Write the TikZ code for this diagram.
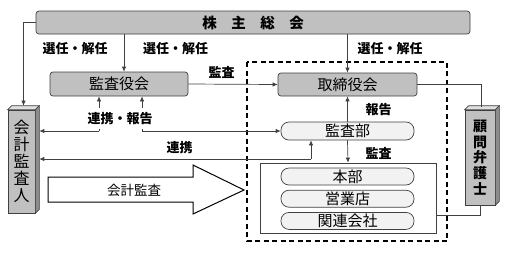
\documentclass[tikz,border=0pt]{standalone}
\usepackage{fontspec}
\setmainfont{Noto Sans CJK JP}
\usetikzlibrary{arrows.meta,positioning,calc}
\definecolor{kgray}{HTML}{C0C0C0}
\definecolor{klight}{HTML}{F2F2F2}
\definecolor{kline}{HTML}{404040}
\tikzset{
  gbox/.style={draw=kline,fill=kgray,rounded corners=3pt,line width=0.7pt,font=\fontsize{15}{15}\selectfont,inner sep=0pt},
  lbox/.style={draw=kline,fill=klight,rounded corners=8pt,line width=0.7pt,font=\fontsize{15}{15}\selectfont,inner sep=0pt,minimum width=133pt,minimum height=17pt},
  face/.style={draw=kline,fill=kgray,line width=0.6pt,align=center,inner sep=0pt},
  arr/.style={-{Latex[length=5pt,width=4.5pt]},line width=0.7pt,draw=kline},
  ln/.style={line width=0.7pt,draw=kline},
  lbl/.style={font=\fontsize{13}{13}\selectfont\bfseries,inner sep=1pt},
}
\newcommand{\cubefaces}[1]{%
  \filldraw[draw=kline,fill=black!12,line width=0.6pt] (#1.north west) -- ++(4,-4) -- ([shift={(4,-4)}]#1.north east) -- (#1.north east) -- cycle;
  \filldraw[draw=kline,fill=black!45,line width=0.6pt] (#1.north east) -- ++(4,-4) -- ([shift={(4,-4)}]#1.south east) -- (#1.south east) -- cycle;}

\begin{document}
\begin{tikzpicture}[x=1pt,y=-1pt]
  \useasboundingbox (0,0) rectangle (508,255);
  \draw[line width=1.1pt,dash pattern=on 5pt off 3.5pt] (247,62) rectangle (447,241);
  \node[gbox,minimum width=434pt,minimum height=23pt,font=\fontsize{14.5}{14.5}\selectfont\bfseries] (kabu) at (253,22.5) {株　主　総　会};
  \node[gbox,minimum width=138pt,minimum height=24pt] (kansayaku) at (119,84) {監査役会};
  \node[gbox,minimum width=139pt,minimum height=23pt] (torishimari) at (347.5,84.5) {取締役会};
  \node[lbox,minimum height=18pt] (kansabu) at (347.5,131) {監査部};
  \node[draw=kline,fill=white,line width=0.7pt,minimum width=176pt,minimum height=70pt] (soshiki) at (348,198) {};
  \node[lbox] (honbu) at (347.5,176.5) {本部};
  \node[lbox,below=4.5pt of honbu] (eigyo) {営業店};
  \node[lbox,below=4.5pt of eigyo] (kanren) {関連会社};
  \node[face,minimum width=27pt,minimum height=103pt,font=\fontsize{16}{17}\selectfont] (kaikei) at (21.5,161.5) {会\\計\\監\\査\\人};
  \cubefaces{kaikei}
  \node[face,minimum width=30pt,minimum height=95pt,font=\fontsize{14}{15.7}\selectfont\bfseries] (komon) at (480,157.5) {顧\\問\\弁\\護\\士};
  \cubefaces{komon}
  \coordinate (kaikei-e) at ([xshift=4pt]kaikei.east);
  \coordinate (s1) at (124,0);
  \coordinate (r1) at (99,131);
  \coordinate (r2) at (142,131);
  \coordinate (r3) at (311,159);
  \coordinate (j1) at (436,215);

  \draw[arr] (kabu.west) -| ([shift={(2,-4)}]kaikei.north);
  \draw[arr] (kabu.south -| s1) -- (kansayaku.north -| s1);
  \draw[arr] (kabu.south -| torishimari.north) -- (torishimari.north);
  \draw[arr] (kansayaku.east) -- (torishimari.west);
  \draw[ln] (torishimari.east) -| ([shift={(1,-3)}]komon.north);
  \draw[ln] (komon.south) |- (j1);
  \draw[arr] (r1) -- (r1 |- kansayaku.south);
  \draw[arr] (r1) -- (r1 -| kaikei-e);
  \draw[arr] (r2) -- (r2 |- kansayaku.south);
  \draw[arr] (r2) -- (r2 -| kansabu.west);
  \draw[arr] (r3) -- (r3 |- kansabu.south);
  \draw[arr] (r3) -- (r3 -| kaikei-e);
  \draw[arr] (kansabu.north) -- (torishimari.south);
  \draw[arr] (kansabu.south) -- (soshiki.north);

  \node[lbl] at (75,49) {選任・解任};
  \node[lbl] at (175.5,49) {選任・解任};
  \node[lbl] at (390,49) {選任・解任};
  \node[lbl] at (221.5,72) {監査};
  \node[lbl,fill=white,inner sep=4pt] at (120,118.5) {連携・報告};
  \node[lbl] at (179.5,147.5) {連携};
  \node[lbl] at (378.5,110) {報告};
  \node[lbl] at (378.5,153) {監査};

  \draw[line width=1pt,fill=white] (48,177) -- (193,177) -- (193,165) -- (244,190) -- (193,214) -- (193,202) -- (48,202) -- cycle;
  \node[font=\fontsize{13.5}{13.5}\selectfont] (kansa) at (134,190) {会計監査};
\end{tikzpicture}
\end{document}
